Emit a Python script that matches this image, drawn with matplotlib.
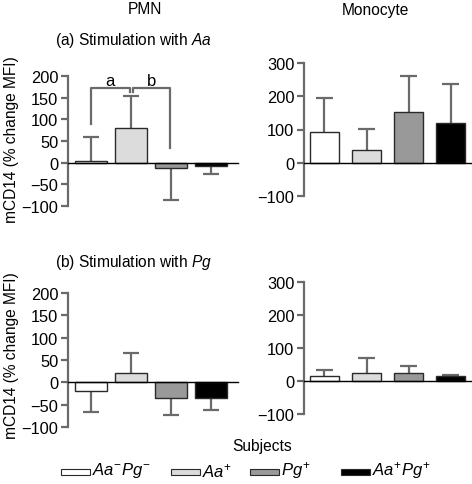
import matplotlib
matplotlib.use("Agg")
import matplotlib.pyplot as plt
from matplotlib.patches import Rectangle

plt.rcParams['font.family'] = ['Liberation Sans', 'DejaVu Sans']
plt.rcParams['mathtext.fontset'] = 'custom'
plt.rcParams['mathtext.rm'] = 'Liberation Sans'
plt.rcParams['mathtext.it'] = 'Liberation Sans:italic'
plt.rcParams['axes.unicode_minus'] = True

# ---- data ----
groups = ['$\\it{Aa}^{-}\\it{Pg}^{-}$', '$\\it{Aa}^{+}$', '$\\it{Pg}^{+}$', '$\\it{Aa}^{+}\\it{Pg}^{+}$']
colors = ['white', '#dcdcdc', '#999999', 'black']

pmn_aa_mean = [4, 81, -13, -7]
pmn_aa_err = [56, 73, 74, 18]
mono_aa_mean = [91, 39, 154, 121]
mono_aa_err = [104, 62, 108, 117]
pmn_pg_mean = [-19, 22, -35, -35]
pmn_pg_err = [47, 44, 39, 28]
mono_pg_mean = [16, 23, 23, 16]
mono_pg_err = [18, 47, 23, 3]

pmn_ticks = [-100, -50, 0, 50, 100, 150, 200]
mono_ticks = [-100, 0, 100, 200, 300]

W, H = 472, 485
fig = plt.figure(figsize=(W / 100, H / 100), dpi=100)


def px_axes(left, right, top, bottom):
    return fig.add_axes([left / W, 1 - bottom / H, (right - left) / W, (bottom - top) / H])


spine_col = '#6a6a6a'
FS = 11.2


def draw(ax, means, errs, ticks, xlim, width, cap):
    x = list(range(len(means)))
    ax.bar(x, means, width=width, color=colors, edgecolor='#2a2a2a', linewidth=1.0, zorder=2)
    for xi, m, e, c in zip(x, means, errs, colors):
        end = m + e if m >= 0 else m - e
        lc = spine_col
        ax.vlines(xi, m, end, color=lc, lw=1.6, zorder=1)
        ax.hlines(end, xi - cap, xi + cap, color=lc, lw=1.6, zorder=1)
    ax.axhline(0, color='black', lw=1.0, zorder=3, clip_on=False)
    ax.set_xlim(*xlim)
    ax.set_ylim(ticks[0], ticks[-1])
    ax.set_yticks(ticks)
    ax.set_yticklabels([f'{t}'.replace('-', '\u2212') for t in ticks], fontsize=11.8)
    ax.set_xticks([])
    for s in ['top', 'right', 'bottom']:
        ax.spines[s].set_visible(False)
    ax.spines['left'].set_color(spine_col)
    ax.spines['left'].set_linewidth(1.6)
    ax.tick_params(axis='y', color=spine_col, width=1.6, length=5, pad=2)
    ax.patch.set_alpha(0)


ax1 = px_axes(68, 238, 77, 207)
draw(ax1, pmn_aa_mean, pmn_aa_err, pmn_ticks, (-0.575, 3.675), 0.8, 0.21)
ax2 = px_axes(304, 472, 64, 197)
draw(ax2, mono_aa_mean, mono_aa_err, mono_ticks, (-0.486, 3.5), 0.69, 0.2)
ax3 = px_axes(68, 238, 294, 428)
draw(ax3, pmn_pg_mean, pmn_pg_err, pmn_ticks, (-0.575, 3.675), 0.8, 0.21)
ax4 = px_axes(304, 472, 283, 415)
draw(ax4, mono_pg_mean, mono_pg_err, mono_ticks, (-0.486, 3.5), 0.69, 0.2)

# significance brackets
bk = dict(color=spine_col, lw=1.6, clip_on=False)
ax1.plot([0, 0, 0.97, 0.97], [89, 172, 172, 162], **bk)
ax1.plot([1.06, 1.06, 1.98, 1.98], [162, 172, 172, 33], **bk)
ax1.text(0.48, 190, 'a', ha='center', va='center', fontsize=12)
ax1.text(1.52, 190, 'b', ha='center', va='center', fontsize=12)

# titles
fig.text(145 / W, 1 - 10 / H, 'PMN', ha='center', va='center', fontsize=FS)
fig.text(375 / W, 1 - 10 / H, 'Monocyte', ha='center', va='center', fontsize=FS)
fig.text(55 / W, 1 - 41 / H, '(a) Stimulation with $\\it{Aa}$', ha='left', va='center', fontsize=FS)
fig.text(55 / W, 1 - 263 / H, '(b) Stimulation with $\\it{Pg}$', ha='left', va='center', fontsize=FS)
fig.text(12 / W, 1 - 140 / H, 'mCD14 (% change MFI)', rotation=90, ha='center', va='center', fontsize=FS)
fig.text(12 / W, 1 - 356 / H, 'mCD14 (% change MFI)', rotation=90, ha='center', va='center', fontsize=FS)
fig.text(262 / W, 1 - 447 / H, 'Subjects', ha='center', va='center', fontsize=FS)

# legend
leg_x = [61, 171, 250, 341]
for lx, c, g in zip(leg_x, colors, groups):
    fig.patches.append(Rectangle((lx / W, 1 - 476 / H), 29 / W, 6 / H, transform=fig.transFigure,
                                 facecolor=c, edgecolor='#2a2a2a', lw=0.8))
    fig.text((lx + 31) / W, 1 - 471 / H, g, ha='left', va='center', fontsize=12)

fig.savefig('out.png', dpi=100)
